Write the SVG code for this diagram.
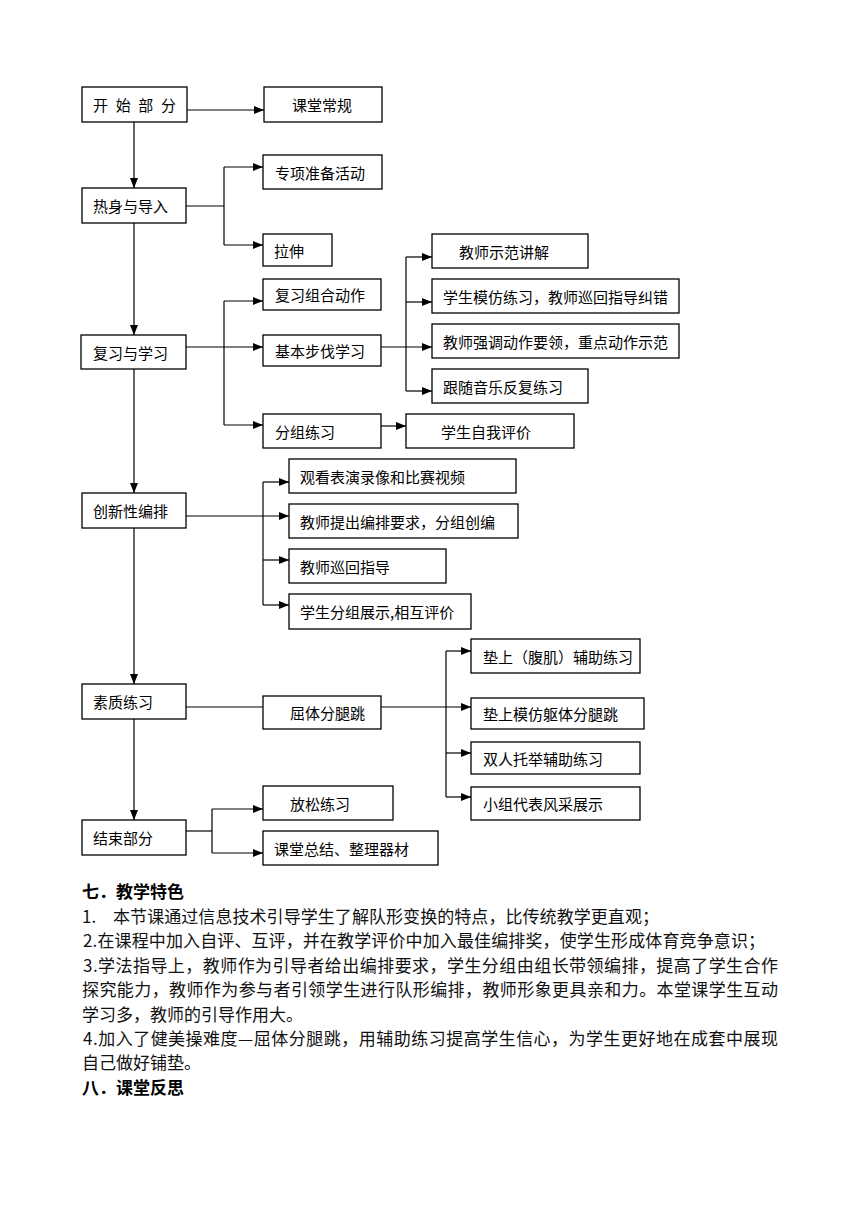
<svg xmlns="http://www.w3.org/2000/svg" width="860" height="1216" viewBox="0 0 860 1216">
<defs>
<marker id="ah" markerUnits="userSpaceOnUse" markerWidth="10" markerHeight="8" refX="10" refY="4" orient="auto">
<path d="M0,0 L10,4 L0,8 z" fill="#000"/>
</marker>
<style>
.box{fill:#fff;stroke:#000;stroke-width:1.3}
.t{font-family:"Noto Sans CJK SC","Noto Sans",sans-serif;font-size:15px;fill:#000}
.c{fill:none;stroke:#000;stroke-width:1.2}
.a{fill:none;stroke:#000;stroke-width:1.2;marker-end:url(#ah)}
.p{font-family:"Noto Sans CJK SC","Noto Sans",sans-serif;font-size:17px;fill:#111}
.h{font-family:"Noto Sans CJK SC","Noto Sans",sans-serif;font-size:17px;font-weight:bold;fill:#000}
</style>
</defs>
<rect width="860" height="1216" fill="#fff"/>
<g id="connectors">
<path class="a" d="M187,110 H264"/>
<path class="a" d="M134,122 V188"/>
<path class="c" d="M186,206 H224"/>
<path class="c" d="M224,167 V245"/>
<path class="a" d="M224,167 H263"/>
<path class="a" d="M224,245 H263"/>
<path class="a" d="M134,223 V335"/>
<path class="a" d="M186,347 H263"/>
<path class="c" d="M224,301 V425"/>
<path class="a" d="M224,301 H263"/>
<path class="a" d="M224,425 H263"/>
<path class="a" d="M381,347 H432"/>
<path class="c" d="M406,257 V391"/>
<path class="a" d="M406,257 H432"/>
<path class="a" d="M406,302 H432"/>
<path class="a" d="M406,391 H432"/>
<path class="a" d="M381,426 H406"/>
<path class="a" d="M134,369 V493"/>
<path class="a" d="M186,516 H289"/>
<path class="c" d="M263,482 V605"/>
<path class="a" d="M263,482 H289"/>
<path class="a" d="M263,560 H289"/>
<path class="a" d="M263,605 H289"/>
<path class="a" d="M134,528 V684"/>
<path class="c" d="M186,707 H263"/>
<path class="a" d="M381,707 H471"/>
<path class="c" d="M446,651 V797"/>
<path class="a" d="M446,651 H471"/>
<path class="a" d="M446,753 H471"/>
<path class="a" d="M446,797 H471"/>
<path class="a" d="M134,719 V820"/>
<path class="c" d="M186,831 H212"/>
<path class="c" d="M212,809 V853"/>
<path class="a" d="M212,809 H263"/>
<path class="a" d="M212,853 H263"/>
</g>
<g id="n-start"><rect class="box" x="82" y="87" width="105" height="35"/><text class="t" x="93" y="111" textLength="83" lengthAdjust="spacing">开 始 部 分</text></g>
<g id="n-routine"><rect class="box" x="264" y="87" width="118" height="35"/><text class="t" x="292" y="111">课堂常规</text></g>
<g id="n-warm"><rect class="box" x="82" y="188" width="104" height="35"/><text class="t" x="93" y="212">热身与导入</text></g>
<g id="n-special"><rect class="box" x="263" y="155" width="119" height="34"/><text class="t" x="275" y="179">专项准备活动</text></g>
<g id="n-stretch"><rect class="box" x="263" y="234" width="69" height="32"/><text class="t" x="274" y="257">拉伸</text></g>
<g id="n-review"><rect class="box" x="81" y="335" width="105" height="34"/><text class="t" x="93" y="359">复习与学习</text></g>
<g id="n-combo"><rect class="box" x="263" y="279" width="118" height="31"/><text class="t" x="275" y="301">复习组合动作</text></g>
<g id="n-basic"><rect class="box" x="263" y="335" width="118" height="31"/><text class="t" x="275" y="357">基本步伐学习</text></g>
<g id="n-group"><rect class="box" x="263" y="414" width="118" height="34"/><text class="t" x="275" y="438">分组练习</text></g>
<g id="n-demo"><rect class="box" x="432" y="234" width="156" height="34"/><text class="t" x="459" y="258">教师示范讲解</text></g>
<g id="n-imitate"><rect class="box" x="432" y="279" width="247" height="34"/><text class="t" x="443" y="303">学生模仿练习，教师巡回指导纠错</text></g>
<g id="n-emph"><rect class="box" x="432" y="324" width="247" height="34"/><text class="t" x="443" y="348">教师强调动作要领，重点动作示范</text></g>
<g id="n-music"><rect class="box" x="432" y="369" width="156" height="34"/><text class="t" x="443" y="393">跟随音乐反复练习</text></g>
<g id="n-self"><rect class="box" x="406" y="414" width="168" height="34"/><text class="t" x="441" y="438">学生自我评价</text></g>
<g id="n-create"><rect class="box" x="82" y="493" width="104" height="35"/><text class="t" x="93" y="517">创新性编排</text></g>
<g id="n-watch"><rect class="box" x="289" y="459" width="227" height="34"/><text class="t" x="300" y="483">观看表演录像和比赛视频</text></g>
<g id="n-req"><rect class="box" x="289" y="504" width="229" height="34"/><text class="t" x="300" y="528">教师提出编排要求，分组创编</text></g>
<g id="n-guide"><rect class="box" x="289" y="549" width="157" height="34"/><text class="t" x="300" y="573">教师巡回指导</text></g>
<g id="n-show"><rect class="box" x="289" y="594" width="182" height="35"/><text class="t" x="300" y="618">学生分组展示,相互评价</text></g>
<g id="n-quality"><rect class="box" x="82" y="684" width="104" height="35"/><text class="t" x="93" y="708">素质练习</text></g>
<g id="n-jump"><rect class="box" x="263" y="696" width="118" height="33"/><text class="t" x="290" y="719">屈体分腿跳</text></g>
<g id="n-mat1"><rect class="box" x="471" y="639" width="169" height="34"/><text class="t" x="483" y="663">垫上（腹肌）辅助练习</text></g>
<g id="n-mat2"><rect class="box" x="471" y="698" width="173" height="31"/><text class="t" x="483" y="720">垫上模仿躯体分腿跳</text></g>
<g id="n-pair"><rect class="box" x="471" y="742" width="169" height="32"/><text class="t" x="483" y="765">双人托举辅助练习</text></g>
<g id="n-rep"><rect class="box" x="471" y="787" width="169" height="33"/><text class="t" x="483" y="810">小组代表风采展示</text></g>
<g id="n-end"><rect class="box" x="82" y="820" width="104" height="35"/><text class="t" x="93" y="844">结束部分</text></g>
<g id="n-relax"><rect class="box" x="263" y="786" width="130" height="34"/><text class="t" x="290" y="810">放松练习</text></g>
<g id="n-summary"><rect class="box" x="263" y="831" width="175" height="34"/><text class="t" x="274" y="855">课堂总结、整理器材</text></g>
<g id="body-text">
<text class="h" x="82" y="898">七．教学特色</text>
<text class="p" x="82" y="923">1.<tspan x="113" textLength="546" lengthAdjust="spacing">本节课通过信息技术引导学生了解队形变换的特点，比传统教学更直观；</tspan></text>
<text class="p" x="83" y="947" textLength="682" lengthAdjust="spacing">2.在课程中加入自评、互评，并在教学评价中加入最佳编排奖，使学生形成体育竞争意识；</text>
<text class="p" x="83" y="972" textLength="695" lengthAdjust="spacing">3.学法指导上，教师作为引导者给出编排要求，学生分组由组长带领编排，提高了学生合作</text>
<text class="p" x="82" y="996" textLength="696" lengthAdjust="spacing">探究能力，教师作为参与者引领学生进行队形编排，教师形象更具亲和力。本堂课学生互动</text>
<text class="p" x="82" y="1021">学习多，教师的引导作用大。</text>
<text class="p" x="83" y="1045" textLength="695" lengthAdjust="spacing">4.加入了健美操难度—屈体分腿跳，用辅助练习提高学生信心，为学生更好地在成套中展现</text>
<text class="p" x="82" y="1069">自己做好铺垫。</text>
<text class="h" x="82" y="1094">八．课堂反思</text>
</g>
</svg>
